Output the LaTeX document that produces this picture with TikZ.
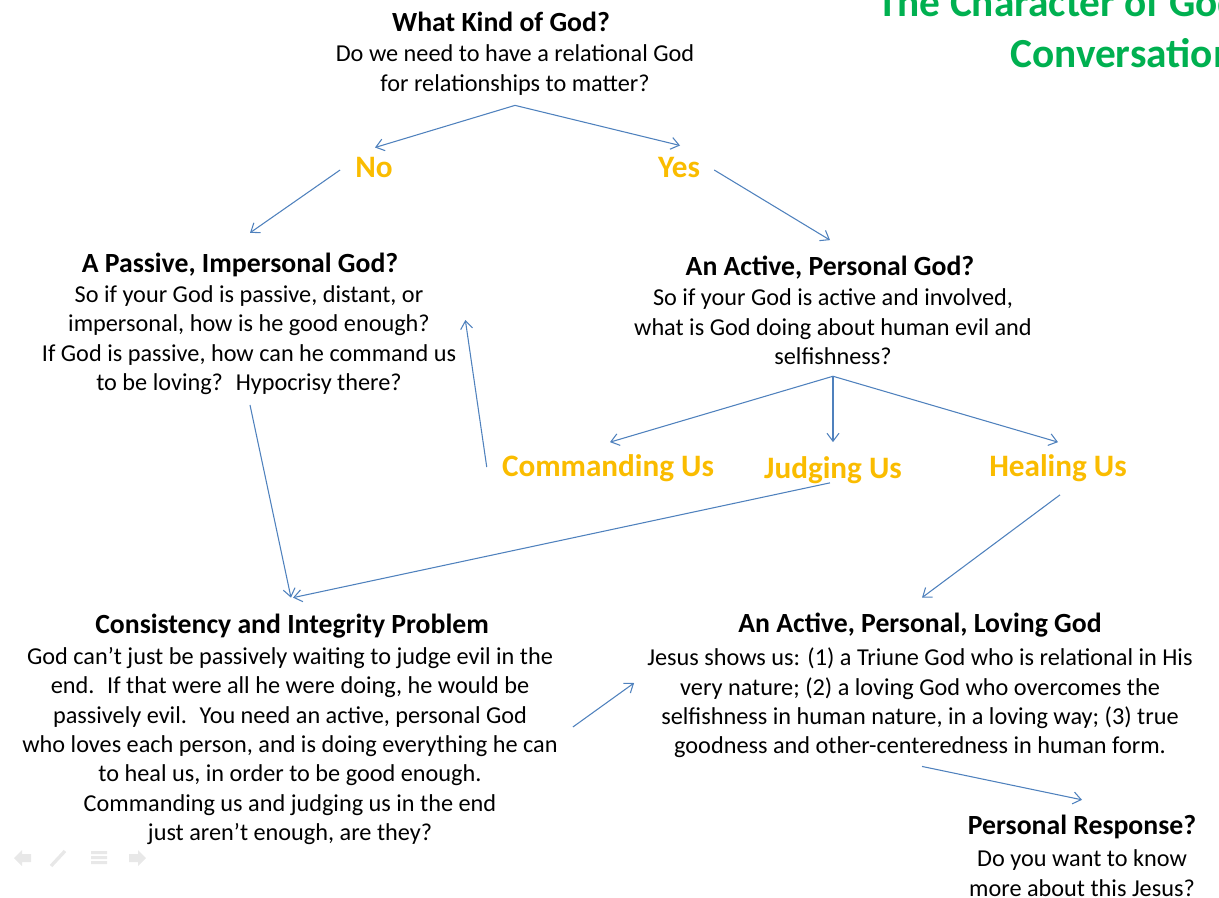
\documentclass[tikz,border=0pt]{standalone}
\usepackage{fontspec}
\setmainfont{Carlito}
\usetikzlibrary{arrows.meta,calc}

\definecolor{linkblue}{RGB}{79,129,189}
\definecolor{answergold}{RGB}{250,188,0}
\definecolor{titlegreen}{RGB}{0,176,80}
\definecolor{navgray}{RGB}{232,232,232}

\tikzset{
  qhead/.style={font=\fontsize{20.8}{24}\selectfont\bfseries, inner sep=0.75pt},
  qbody/.style={font=\fontsize{18.2}{22.1}\selectfont, align=center, inner sep=0.75pt},
  answer/.style={text=answergold, font=\fontsize{23.4}{27}\selectfont\bfseries, inner sep=0.75pt},
  link/.style={draw=linkblue, line width=0.8pt, -{Straight Barb[length=6pt,width=9pt]}},
}

\begin{document}
\begin{tikzpicture}[x=0.75pt,y=0.75pt,yscale=-1,xscale=1]
\useasboundingbox (0,0) rectangle (1219,898);

% title, runs off the slide edge
\node [anchor=base west, inner sep=0pt, text=titlegreen, font=\fontsize{31}{36}\selectfont\bfseries] (title) at (877,17) {The Character of God};
\node [anchor=base west, inner sep=0pt, text=titlegreen, font=\fontsize{31}{36}\selectfont\bfseries] (title2) at (1010,68) {Conversation};

% opening question
\node [qhead] (kind) at (501,22) {What Kind of God?};
\node [qbody] (kindq) at (515,70) {Do we need to have a relational God\\for relationships to matter?};
\node [answer] (no) at (374,168) {No};
\node [answer] (yes) at (679,168) {Yes};

% passive branch
\node [qhead] (passive) at (240,265) {A Passive, Impersonal God?};
\node [qbody] (passiveq) at (249,340) {So if your God is passive, distant, or\\impersonal, how is he good enough?\\If God is passive, how can he command us\\to be loving?~ Hypocrisy there?};

% active branch
\node [qhead] (active) at (830,268) {An Active, Personal God?};
\node [qbody] (activeq) at (833,327) {So if your God is active and involved,\\what is God doing about human evil and\\selfishness?};
\node [answer] (cmd) at (608,468) {Commanding Us};
\node [answer] (judge) at (833,470) {Judging Us};
\node [answer] (heal) at (1058,468) {Healing Us};

% where the branches end up
\node [qhead] (problem) at (292,626) {Consistency and Integrity Problem};
\node [qbody] (problemq) at (290,746) {God can’t just be passively waiting to judge evil in the\\end.~ If that were all he were doing, he would be\\passively evil.~ You need an active, personal God\\who loves each person, and is doing everything he can\\to heal us, in order to be good enough.\\Commanding us and judging us in the end\\just aren’t enough, are they?};
\node [qhead] (loving) at (920,625) {An Active, Personal, Loving God};
\node [qbody] (lovingq) at (920,703) {Jesus shows us: (1) a Triune God who is relational in His\\very nature; (2) a loving God who overcomes the\\selfishness in human nature, in a loving way; (3) true\\goodness and other-centeredness in human form.};
\node [qhead] (response) at (1082,827) {Personal Response?};
\node [qbody] (responseq) at (1082,873) {Do you want to know\\more about this Jesus?};

% connectors
\draw [link] ($(kindq.south)+(0,9)$) -- ($(no.north)+(1,-9)$);
\draw [link] ($(kindq.south)+(0,9)$) -- ($(yes.north)+(1,-11)$);
\draw [link] ($(no.west)+(-14,2)$) -- ($(passive.north)+(10,-19)$);
\draw [link] ($(yes.east)+(13,2)$) -- ($(active.north)+(0,-15)$);
\draw [link] ($(activeq.south)+(0,10)$) -- ($(cmd.north)+(2,-11)$);
\draw [link] ($(activeq.south)+(0,10)$) -- ($(judge.north)+(0,-13)$);
\draw [link] ($(activeq.south)+(0,10)$) -- ($(heal.north)+(0,-11)$);
\draw [link] ($(cmd.west)+(-14,-1)$) -- ($(passiveq.east)+(8,-20)$);
\draw [link] ($(passiveq.south)+(1,9)$) -- ($(problem.north)+(-1,-15)$);
\draw [link] ($(judge.south)+(-3,-2)$) -- ($(problem.north)+(1,-15)$);
\draw [link] ($(heal.south)+(2,12)$) -- ($(loving.north)+(2,-14)$);
\draw [link] ($(problemq.east)+(14,-19)$) -- ($(lovingq.west)+(-12,-20)$);
\draw [link] ($(lovingq.south)+(2,7)$) -- ($(response.north)+(0,-14)$);

% slide show buttons
\fill [navgray] (14,858) -- (22,850) -- (22,854) -- (31,854) -- (31,862) -- (22,862) -- (22,866) -- cycle;
\draw [navgray, line width=2.5pt] (51,866) -- (65,851);
\fill [navgray] (91,851) rectangle (107,854) (91,856) rectangle (107,859) (91,861) rectangle (107,864);
\fill [navgray] (146,858) -- (138,850) -- (138,854) -- (129,854) -- (129,862) -- (138,862) -- (138,866) -- cycle;
\end{tikzpicture}
\end{document}
